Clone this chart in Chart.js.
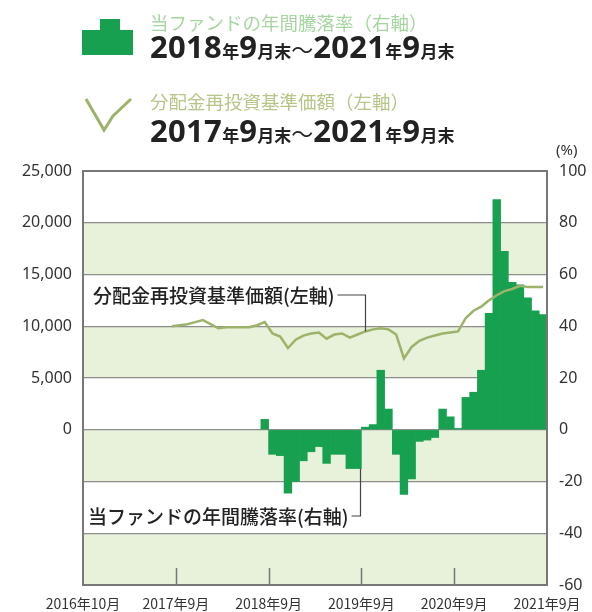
<!DOCTYPE html>
<html>
<head>
<meta charset="utf-8">
<script src="https://cdn.jsdelivr.net/npm/chart.js@4.4.1/dist/chart.umd.min.js"></script>
<style>
    html, body { margin: 0; padding: 0; background: #fff; }
    #wrap { position: relative; width: 592px; height: 612px; overflow: hidden; }
    #chart { position: absolute; left: 0; top: 0; }
    .hd { position: absolute; left: 150px; white-space: nowrap; font-family: "Noto Sans CJK JP", sans-serif; }
    .ttl { font-size: 18.5px; line-height: 22px; }
    .per { color: #222; font-weight: bold; line-height: 32px; }
    .per .n { font-family: "Noto Sans", sans-serif; font-size: 31px; letter-spacing: 0.3px; }
    .per .k { font-size: 17px; }
    .per .t { font-size: 22px; font-weight: normal; }
    .pct { position: absolute; left: 556px; top: 139px; font-family: "Noto Sans", sans-serif; font-size: 15px; color: #333; }
</style>
</head>
<body>
<div id="wrap">
    <canvas id="chart" width="592" height="612"></canvas>

    <!-- legend icons -->
    <div style="position:absolute;left:82px;top:30px;width:51px;height:25px;background:#17a04f;"></div>
    <div style="position:absolute;left:100px;top:19px;width:20px;height:12px;background:#17a04f;"></div>
    <svg style="position:absolute;left:80px;top:92px;" width="56" height="44">
        <polyline points="6,7 24,38 33,24 51,7" fill="none" stroke="#9db36a" stroke-width="3"/>
    </svg>

    <div class="hd ttl" style="top:11px;color:#a6d6a0;">当ファンドの年間騰落率（右軸）</div>
    <div class="hd per" style="top:30px;"><span class="n">2018</span><span class="k">年</span><span class="n">9</span><span class="k">月末</span><span class="t">～</span><span class="n">2021</span><span class="k">年</span><span class="n">9</span><span class="k">月末</span></div>
    <div class="hd ttl" style="top:90px;color:#b5c688;">分配金再投資基準価額（左軸）</div>
    <div class="hd per" style="top:114px;"><span class="n">2017</span><span class="k">年</span><span class="n">9</span><span class="k">月末</span><span class="t">～</span><span class="n">2021</span><span class="k">年</span><span class="n">9</span><span class="k">月末</span></div>
    <div class="pct">(%)</div>
</div>

<script>
// x axis: month slots from 2016年10月 (0) to 2021年9月 (59), ticks at the end of each September
const xTickPos = [0, 12, 24, 36, 48, 60];
const xTickLabels = ['2016年10月', '2017年9月', '2018年9月', '2019年9月', '2020年9月', '2021年9月'];

// 分配金再投資基準価額 (left axis), monthly from 2017年9月
const navStartSlot = 11;
const navValues = [
    10000, 10100, 10200, 10400, 10600, 10200, 9800, 9900, 9900, 9900, 9900, 10100,
    10400, 9300, 9000, 7900, 8700, 9100, 9300, 9400, 8800, 9200, 9300, 8900,
    9200, 9500, 9700, 9800, 9700, 9200, 6900, 8000, 8600, 8900, 9100, 9300,
    9400, 9500, 10800, 11500, 11900, 12500, 13000, 13400, 13600, 13900, 13800, 13800, 13800
];

// 当ファンドの年間騰落率 (right axis, %), monthly from 2018年9月
const retStartSlot = 23;
const retValues = [
    4, -9.5, -10, -24.5, -20, -12, -8.5, -6.5, -13, -9.5, -9.5, -15, -15,
    1, 2, 23, 8, -9.5, -25, -19, -4.5, -4, -3, 8, 5,
    0.5, 12.5, 14.5, 23, 45, 89, 69, 57, 56, 51, 46, 44.5
];

const navLabel = '分配金再投資基準価額(左軸)';
const retLabel = '当ファンドの年間騰落率(右軸)';

const green = '#17a04f';
const olive = '#9db36a';

// alternate light green bands behind the plot
const bandsPlugin = {
    id: 'bands',
    beforeDraw(chart) {
        const { ctx, chartArea: a } = chart;
        const yR = chart.scales.yR;
        ctx.save();
        ctx.fillStyle = '#e8f1da';
        [[60, 80], [20, 40], [-20, 0], [-60, -40]].forEach(([lo, hi]) => {
            const top = yR.getPixelForValue(hi);
            const bot = yR.getPixelForValue(lo);
            ctx.fillRect(a.left, top, a.right - a.left, bot - top);
        });
        ctx.restore();
    }
};

// frame, september tick marks and the two callouts
const overlayPlugin = {
    id: 'overlay',
    afterDatasetsDraw(chart) {
        const { ctx, chartArea: a, scales } = chart;
        const x = scales.x, yL = scales.yL, yR = scales.yR;
        ctx.save();

        ctx.strokeStyle = '#777';
        ctx.lineWidth = 1.5;
        [12, 24, 36, 48].forEach(v => {
            const px = Math.round(x.getPixelForValue(v)) + 0.5;
            ctx.beginPath();
            ctx.moveTo(px, a.bottom);
            ctx.lineTo(px, a.bottom - 17);
            ctx.stroke();
        });

        ctx.lineWidth = 2;
        ctx.strokeRect(a.left, a.top, a.right - a.left, a.bottom - a.top);

        ctx.font = '500 19px "Noto Sans CJK JP"';
        ctx.fillStyle = '#222';
        ctx.textBaseline = 'middle';
        ctx.strokeStyle = '#444';
        ctx.lineWidth = 1.2;

        // line callout
        const navIdx = 25;
        const y1 = 296;
        ctx.fillText(navLabel, 93, y1);
        const w1 = ctx.measureText(navLabel).width;
        const lx = Math.round(x.getPixelForValue(navStartSlot + navIdx + 0.5)) + 0.5;
        ctx.beginPath();
        ctx.moveTo(93 + w1 + 3, y1 - 1);
        ctx.lineTo(lx, y1 - 1);
        ctx.lineTo(lx, yL.getPixelForValue(navValues[navIdx]));
        ctx.stroke();

        // bar callout
        const retIdx = 12;
        const y2 = 517;
        ctx.fillText(retLabel, 88, y2);
        const w2 = ctx.measureText(retLabel).width;
        const bx = Math.round(x.getPixelForValue(retStartSlot + retIdx + 0.8)) + 0.5;
        ctx.beginPath();
        ctx.moveTo(88 + w2 + 3, y2 - 1);
        ctx.lineTo(bx, y2 - 1);
        ctx.lineTo(bx, yR.getPixelForValue(retValues[retIdx]));
        ctx.stroke();

        ctx.restore();
    }
};

const tickFont = { family: 'Noto Sans', size: 16 };

new Chart(document.getElementById('chart'), {
    type: 'bar',
    data: {
        datasets: [
            {
                type: 'line',
                label: navLabel,
                data: navValues.map((v, i) => ({ x: navStartSlot + i + 0.5, y: v })),
                yAxisID: 'yL',
                borderColor: olive,
                borderWidth: 2.5,
                pointRadius: 0,
                tension: 0,
                order: 0
            },
            {
                label: retLabel,
                data: retValues.map((v, i) => ({ x: retStartSlot + i + 0.5, y: v })),
                yAxisID: 'yR',
                backgroundColor: green,
                borderWidth: 0,
                barPercentage: 1,
                categoryPercentage: 1,
                order: 1
            }
        ]
    },
    options: {
        responsive: false,
        animation: false,
        layout: { padding: { top: 171, left: 0, right: 0, bottom: 0 } },
        plugins: { legend: { display: false }, tooltip: { enabled: false } },
        scales: {
            x: {
                type: 'linear',
                min: 0,
                max: 60,
                offset: false,
                grid: { display: false, drawTicks: false },
                border: { display: false },
                ticks: {
                    stepSize: 12,
                    autoSkip: false,
                    maxRotation: 0,
                    padding: 10,
                    color: '#333',
                    font: { family: 'Noto Sans CJK JP', size: 14 },
                    callback: (v) => xTickLabels[xTickPos.indexOf(v)]
                },
                afterFit: (s) => { s.height = 27; }
            },
            yL: {
                position: 'left',
                min: -15000,
                max: 25000,
                grid: { display: false, drawTicks: false },
                border: { display: false },
                ticks: {
                    stepSize: 5000,
                    padding: 11,
                    color: '#333',
                    font: tickFont,
                    callback: (v) => v >= 0 ? v.toLocaleString('en-US') : ''
                },
                afterFit: (s) => { s.width = 83; }
            },
            yR: {
                position: 'right',
                min: -60,
                max: 100,
                grid: { color: '#8d8d8d', lineWidth: 1.3, drawTicks: false },
                border: { display: false },
                ticks: {
                    stepSize: 20,
                    padding: 12,
                    color: '#333',
                    font: tickFont
                },
                afterFit: (s) => { s.width = 45; }
            }
        }
    },
    plugins: [bandsPlugin, overlayPlugin]
});
</script>
</body>
</html>
